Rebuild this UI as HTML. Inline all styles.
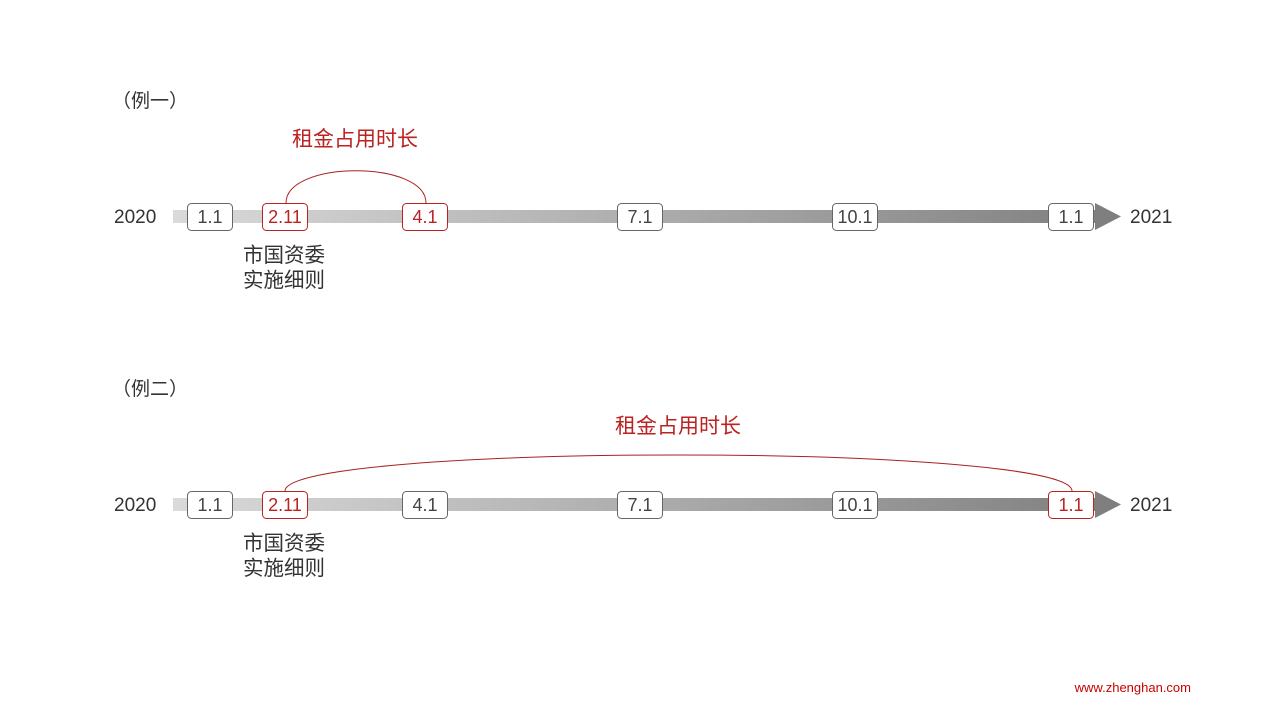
<!DOCTYPE html>
<html><head><meta charset="utf-8"><style>
body{margin:0;background:#fff}
svg text{font-family:"Liberation Sans","Noto Sans CJK SC",sans-serif}
</style></head><body>
<svg width="1280" height="720" viewBox="0 0 1280 720">
<defs>
<linearGradient id="g" x1="173" x2="1120" y1="0" y2="0" gradientUnits="userSpaceOnUse">
<stop offset="0" stop-color="#dadada"/><stop offset="1" stop-color="#7f7f7f"/></linearGradient>
</defs>
<g font-size="19" fill="#333">
<text x="112" y="107">（例一）</text>
<text x="112" y="395">（例二）</text>
</g>
<g id="t1">
<rect x="173" y="210" width="924" height="13" fill="url(#g)"/>
<polygon points="1095,203 1121,216.5 1095,230" fill="#7f7f7f"/>
<text x="114" y="223" font-size="19" fill="#333">2020</text>
<text x="1130" y="223" font-size="19" fill="#333">2021</text>
<text x="243" y="262" font-size="20.5" fill="#333">市国资委</text>
<text x="243" y="287" font-size="20.5" fill="#333">实施细则</text>
</g>
<g font-size="18" text-anchor="middle">
<rect x="187.5" y="203.5" width="45" height="27" rx="4" fill="#fff" stroke="#666"/><text x="210" y="223" fill="#444">1.1</text>
<rect x="262.5" y="203.5" width="45" height="27" rx="4" fill="#fff" stroke="#b22"/><text x="285" y="223" fill="#b22">2.11</text>
<rect x="402.5" y="203.5" width="45" height="27" rx="4" fill="#fff" stroke="#b22"/><text x="425" y="223" fill="#b22">4.1</text>
<rect x="617.5" y="203.5" width="45" height="27" rx="4" fill="#fff" stroke="#666"/><text x="640" y="223" fill="#444">7.1</text>
<rect x="832.5" y="203.5" width="45" height="27" rx="4" fill="#fff" stroke="#666"/><text x="855" y="223" fill="#444">10.1</text>
<rect x="1048.5" y="203.5" width="45" height="27" rx="4" fill="#fff" stroke="#666"/><text x="1071" y="223" fill="#444">1.1</text>
</g>
<path d="M286,203 C286,160 426,160 426,203" fill="none" stroke="#a22" stroke-width="1"/>
<text x="355" y="146" font-size="21" fill="#b22" text-anchor="middle">租金占用时长</text>

<use href="#t1" y="288"/>
<g font-size="18" text-anchor="middle">
<rect x="187.5" y="491.5" width="45" height="27" rx="4" fill="#fff" stroke="#666"/><text x="210" y="511" fill="#444">1.1</text>
<rect x="262.5" y="491.5" width="45" height="27" rx="4" fill="#fff" stroke="#b22"/><text x="285" y="511" fill="#b22">2.11</text>
<rect x="402.5" y="491.5" width="45" height="27" rx="4" fill="#fff" stroke="#666"/><text x="425" y="511" fill="#444">4.1</text>
<rect x="617.5" y="491.5" width="45" height="27" rx="4" fill="#fff" stroke="#666"/><text x="640" y="511" fill="#444">7.1</text>
<rect x="832.5" y="491.5" width="45" height="27" rx="4" fill="#fff" stroke="#666"/><text x="855" y="511" fill="#444">10.1</text>
<rect x="1048.5" y="491.5" width="45" height="27" rx="4" fill="#fff" stroke="#b22"/><text x="1071" y="511" fill="#b22">1.1</text>
</g>
<path d="M285,491 C285,443 1072,443 1072,491" fill="none" stroke="#a22" stroke-width="1"/>
<text x="678" y="433" font-size="21" fill="#b22" text-anchor="middle">租金占用时长</text>
<text x="1191" y="692" font-size="13" fill="#c00" text-anchor="end">www.zhenghan.com</text>
</svg>
</body></html>
